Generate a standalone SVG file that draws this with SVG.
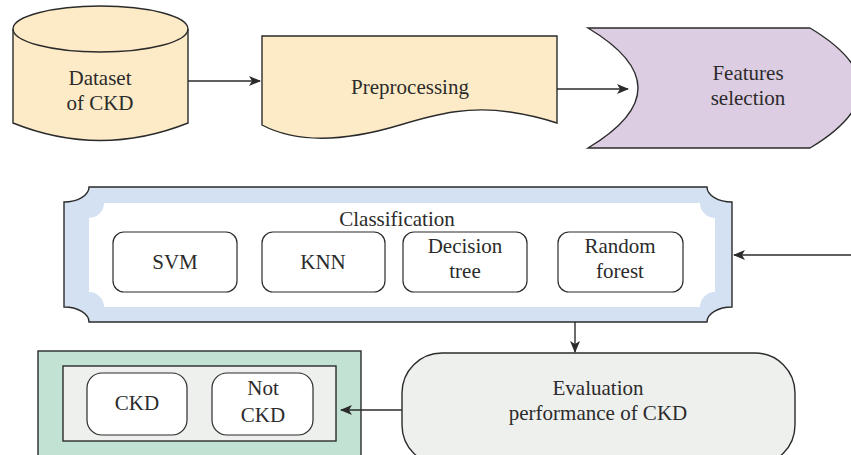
<svg xmlns="http://www.w3.org/2000/svg" width="851" height="455" viewBox="0 0 851 455">
<defs>
<marker id="ah" viewBox="0 0 12 10" refX="11" refY="5" markerWidth="12" markerHeight="10" markerUnits="userSpaceOnUse" orient="auto">
<path d="M0,0 L12,5 L0,10 L3,5 Z" fill="#2b2b2b"/>
</marker>
</defs>
<rect width="851" height="455" fill="#ffffff"/>
<g stroke="#2b2b2b" stroke-width="1.4">
<g id="dataset">
<path fill="#fdebc7" d="M13,29 A87.5,23 0 0 1 188,29 V123 Q100,158 13,123 Z"/>
<path fill="none" d="M13,29 A87.5,23 0 0 0 188,29"/>
</g>
<g id="preprocessing">
<path fill="#fdebc7" d="M262,36 H557 V123 C545,119 530,115 510,112 C470,106 440,113 400,125 C350,140 300,145 262,125 Z"/>
</g>
<g id="features">
<path fill="#dccde3" d="M588,28 H810 Q910,88 810,148 H588 Q688,88 588,28 Z"/>
</g>
<g id="classification">
<path fill="#d3e1f2" d="M89,187 H707 A25,15 0 0 0 732,202 V307 A25,15 0 0 0 707,322 H89 A25,15 0 0 0 64,307 V202 A25,15 0 0 0 89,187 Z"/>
<path fill="#ffffff" stroke="none" d="M104,203 H700 A15,15 0 0 0 715,218 V292 A15,15 0 0 0 700,307 H104 A15,15 0 0 0 89,292 V218 A15,15 0 0 0 104,203 Z"/>
</g>
<g id="models" fill="#ffffff" stroke-width="1.2">
<rect id="svm" x="113" y="232" width="124" height="60" rx="11"/>
<rect id="knn" x="262" y="232" width="123" height="60" rx="11"/>
<rect id="decision-tree" x="403" y="232" width="124" height="60" rx="11"/>
<rect id="random-forest" x="558" y="232" width="125" height="60" rx="11"/>
</g>
<g id="evaluation">
<rect fill="#eef0ee" x="402" y="353" width="393" height="112" rx="40"/>
</g>
<g id="result">
<rect fill="#c2e3d3" x="38" y="351" width="323" height="130"/>
<rect fill="#eef0ee" x="63" y="366" width="273" height="75"/>
</g>
<g id="outcomes" fill="#ffffff" stroke-width="1.2">
<rect id="ckd" x="87" y="373" width="100" height="62" rx="15"/>
<rect id="not-ckd" x="212" y="373" width="101" height="62" rx="15"/>
</g>
</g>

<g id="labels" font-family="Liberation Serif" font-size="21" fill="#2b2b2b" text-anchor="middle">
<text x="100" y="85">Dataset</text>
<text x="100" y="110">of CKD</text>
<text x="410" y="94">Preprocessing</text>
<text x="748" y="80">Features</text>
<text x="748" y="105">selection</text>
<text x="397" y="226">Classification</text>
<text x="175" y="269">SVM</text>
<text x="323" y="269">KNN</text>
<text x="465" y="253">Decision</text>
<text x="465" y="278">tree</text>
<text x="620" y="253">Random</text>
<text x="620" y="278">forest</text>
<text x="598" y="395">Evaluation</text>
<text x="598" y="420">performance of CKD</text>
<text x="137" y="410">CKD</text>
<text x="263" y="395">Not</text>
<text x="263" y="422">CKD</text>
</g>

<g id="connectors" fill="none" stroke="#2b2b2b" stroke-width="1.4">
<path d="M188,81 H260" marker-end="url(#ah)"/>
<path d="M557,89 H628" marker-end="url(#ah)"/>
<path d="M851,255 H734" marker-end="url(#ah)"/>
<path d="M575,322 V352" marker-end="url(#ah)"/>
<path d="M402,410 H341" marker-end="url(#ah)"/>
</g>
</svg>
